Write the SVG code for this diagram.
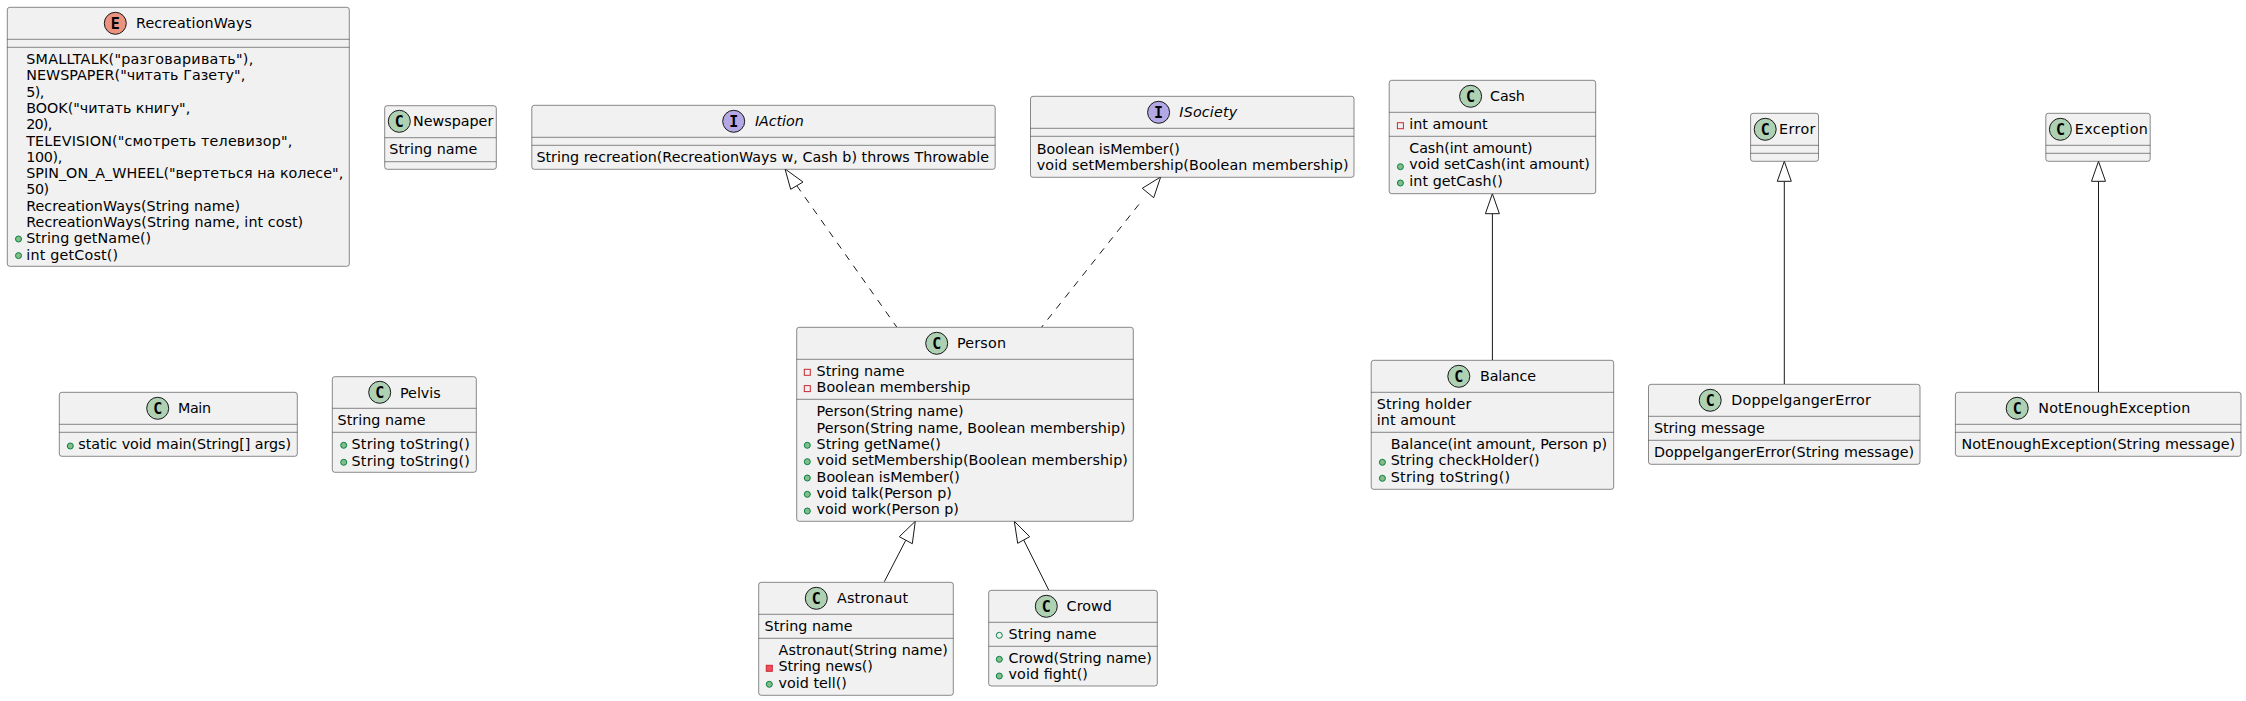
<svg xmlns="http://www.w3.org/2000/svg" width="2246" height="701" viewBox="0 0 2246 701">
<style>
text{font-family:"DejaVu Sans",sans-serif;font-size:14.3px;fill:#000}
.i{font-style:italic}
.box{fill:#F1F1F1;stroke:#181818;stroke-width:.5}
.sep{stroke:#181818;stroke-width:.5}
.sp{fill:#ADD1B2;stroke:#181818;stroke-width:1}
.sp.e{fill:#EB937F}
.sp.n{fill:#B4A7E5}
.g{font-family:"DejaVu Sans Mono",monospace;font-weight:bold;font-size:15px;text-anchor:middle}
.pub{fill:#84BE84;stroke:#038048;stroke-width:1}
.pubf{fill:none;stroke:#038048;stroke-width:1}
.privf{fill:none;stroke:#C82930;stroke-width:1}
.privm{fill:#F24D5C;stroke:#C82930;stroke-width:1}
.ln{fill:none;stroke:#181818;stroke-width:1}
.da{stroke-dasharray:7 7}
.hd{fill:#fff;stroke:#181818;stroke-width:1}
</style>
<g id="connectors">
<path class="ln da" d="M796.8,185.7 L896.7,327"/><polygon class="hd" points="785,168.9 790.7,189.3 803,182"/>
<path class="ln da" d="M1138.9,204.4 L1041.7,327"/><polygon class="hd" points="1160.7,176.9 1153.7,197.7 1142.3,188.3"/>
<path class="ln" d="M905.8,540.2 L884.3,581.7"/><polygon class="hd" points="915.3,521.3 899.3,536.7 912.3,543.7"/>
<path class="ln" d="M1023.7,540 L1048.7,590"/><polygon class="hd" points="1014.3,521.3 1017.7,543.3 1029.7,536.7"/>
<path class="ln" d="M1492.4,213.7 L1492.4,360"/><polygon class="hd" points="1492.4,193.7 1485.4,213.7 1499.4,213.7"/>
<path class="ln" d="M1784.3,181.3 L1784.3,384"/><polygon class="hd" points="1784.3,161.3 1777.3,181.3 1791.3,181.3"/>
<path class="ln" d="M2098.5,181.3 L2098.5,392"/><polygon class="hd" points="2098.5,161.3 2091.5,181.3 2105.5,181.3"/>
</g>
<g id="RecreationWays">
<rect class="box" x="7.3" y="7.3" width="342" height="259" rx="2.5"/>
<line class="sep" x1="7.3" y1="39.3" x2="349.3" y2="39.3"/><line class="sep" x1="7.3" y1="47.3" x2="349.3" y2="47.3"/>
<circle class="sp e" cx="115.3" cy="23.3" r="11"/><text class="g" x="115.3" y="28.5">E</text>
<text x="136" y="28" textLength="116">RecreationWays</text>
<text x="26.2" y="64" textLength="227">SMALLTALK("разговаривать"),</text>
<text x="26.2" y="80.3" textLength="219">NEWSPAPER("читать Газету",</text>
<text x="26.2" y="96.6" textLength="18">5),</text>
<text x="26.2" y="112.9" textLength="164">BOOK("читать книгу",</text>
<text x="26.2" y="129.2" textLength="26">20),</text>
<text x="26.2" y="145.5" textLength="266">TELEVISION("смотреть телевизор",</text>
<text x="26.2" y="161.8" textLength="36">100),</text>
<text x="26.2" y="178.1" textLength="317">SPIN_ON_A_WHEEL("вертеться на колесе",</text>
<text x="26.2" y="194.4" textLength="23">50)</text>
<text x="26.2" y="210.7" textLength="214">RecreationWays(String name)</text>
<text x="26.2" y="227" textLength="277">RecreationWays(String name, int cost)</text>
<circle class="pub" cx="18.5" cy="239" r="3"/><text x="26.2" y="243.3" textLength="125">String getName()</text>
<circle class="pub" cx="18.5" cy="255.6" r="3"/><text x="26.2" y="259.6" textLength="92">int getCost()</text>
</g>
<g id="Newspaper">
<rect class="box" x="384.7" y="105.7" width="111.6" height="63.6" rx="2.5"/>
<line class="sep" x1="384.7" y1="137.7" x2="496.3" y2="137.7"/><line class="sep" x1="384.7" y1="161.7" x2="496.3" y2="161.7"/>
<circle class="sp" cx="399.3" cy="121.3" r="11"/><text class="g" x="399.3" y="126.5">C</text>
<text x="413" y="126.3" textLength="80.3">Newspaper</text>
<text x="389.3" y="154" textLength="88">String name</text>
</g>
<g id="Main">
<rect class="box" x="59.3" y="392.3" width="238" height="64" rx="2.5"/>
<line class="sep" x1="59.3" y1="424.3" x2="297.3" y2="424.3"/><line class="sep" x1="59.3" y1="432.3" x2="297.3" y2="432.3"/>
<circle class="sp" cx="157.7" cy="408.3" r="11"/><text class="g" x="157.7" y="413.5">C</text>
<text x="178" y="413" textLength="33">Main</text>
<circle class="pub" cx="70.3" cy="446" r="3"/><text x="78.3" y="449.3" textLength="212.7">static void main(String[] args)</text>
</g>
<g id="Pelvis">
<rect class="box" x="332.3" y="376.7" width="144" height="95.6" rx="2.5"/>
<line class="sep" x1="332.3" y1="408.3" x2="476.3" y2="408.3"/><line class="sep" x1="332.3" y1="432.3" x2="476.3" y2="432.3"/>
<circle class="sp" cx="379.7" cy="392.3" r="11"/><text class="g" x="379.7" y="397.5">C</text>
<text x="400" y="397.5" textLength="40.7">Pelvis</text>
<text x="337.6" y="425" textLength="88">String name</text>
<circle class="pub" cx="343.7" cy="445.3" r="3"/><text x="351.6" y="449.3" textLength="118.3">String toString()</text>
<circle class="pub" cx="343.7" cy="462.3" r="3"/><text x="351.6" y="465.6" textLength="118.3">String toString()</text>
</g>
<g id="IAction">
<rect class="box" x="531.8" y="105.3" width="463.4" height="64" rx="2.5"/>
<line class="sep" x1="531.8" y1="137.3" x2="995.2" y2="137.3"/><line class="sep" x1="531.8" y1="145.3" x2="995.2" y2="145.3"/>
<circle class="sp n" cx="733.7" cy="121.3" r="11"/><text class="g" x="733.7" y="126.5">I</text>
<text class="i" x="755" y="126" textLength="48.7">IAction</text>
<text x="536.4" y="162" textLength="452.6">String recreation(RecreationWays w, Cash b) throws Throwable</text>
</g>
<g id="ISociety">
<rect class="box" x="1030.5" y="96.3" width="323.5" height="81" rx="2.5"/>
<line class="sep" x1="1030.5" y1="128.3" x2="1354" y2="128.3"/><line class="sep" x1="1030.5" y1="136.3" x2="1354" y2="136.3"/>
<circle class="sp n" cx="1158.6" cy="112.3" r="11"/><text class="g" x="1158.6" y="117.5">I</text>
<text class="i" x="1179.3" y="117" textLength="57.8">ISociety</text>
<text x="1036.8" y="153.7" textLength="143">Boolean isMember()</text>
<text x="1036.8" y="170" textLength="311.7">void setMembership(Boolean membership)</text>
</g>
<g id="Person">
<rect class="box" x="796.7" y="327.3" width="336.6" height="194" rx="2.5"/>
<line class="sep" x1="796.7" y1="359.3" x2="1133.3" y2="359.3"/><line class="sep" x1="796.7" y1="399.3" x2="1133.3" y2="399.3"/>
<circle class="sp" cx="936.7" cy="343.3" r="11"/><text class="g" x="936.7" y="348.5">C</text>
<text x="957" y="348" textLength="49">Person</text>
<rect class="privf" x="804.3" y="369.3" width="6" height="6"/><text x="816.6" y="376" textLength="88">String name</text>
<rect class="privf" x="804.3" y="385.6" width="6" height="6"/><text x="816.6" y="392.3" textLength="153.7">Boolean membership</text>
<text x="816.6" y="416.3" textLength="147">Person(String name)</text>
<text x="816.6" y="432.6" textLength="309">Person(String name, Boolean membership)</text>
<circle class="pub" cx="807.3" cy="445.3" r="3"/><text x="816.6" y="448.9" textLength="124.3">String getName()</text>
<circle class="pub" cx="807.3" cy="461.7" r="3"/><text x="816.6" y="465.2" textLength="311.3">void setMembership(Boolean membership)</text>
<circle class="pub" cx="807.3" cy="478" r="3"/><text x="816.6" y="481.5" textLength="143.3">Boolean isMember()</text>
<circle class="pub" cx="807.3" cy="494.3" r="3"/><text x="816.6" y="497.8" textLength="135.3">void talk(Person p)</text>
<circle class="pub" cx="807.3" cy="511" r="3"/><text x="816.6" y="514" textLength="142.3">void work(Person p)</text>
</g>
<g id="Astronaut">
<rect class="box" x="758.7" y="582.3" width="194.6" height="113" rx="2.5"/>
<line class="sep" x1="758.7" y1="614.3" x2="953.3" y2="614.3"/><line class="sep" x1="758.7" y1="638.3" x2="953.3" y2="638.3"/>
<circle class="sp" cx="816.3" cy="598.3" r="11"/><text class="g" x="816.3" y="603.5">C</text>
<text x="837" y="603" textLength="71">Astronaut</text>
<text x="764.6" y="631" textLength="88">String name</text>
<text x="778.6" y="655" textLength="169.3">Astronaut(String name)</text>
<rect class="privm" x="766.3" y="665.3" width="6" height="6"/><text x="778.6" y="671.3" textLength="94.3">String news()</text>
<circle class="pub" cx="769.3" cy="684.3" r="3"/><text x="778.6" y="687.6" textLength="68.3">void tell()</text>
</g>
<g id="Crowd">
<rect class="box" x="988.7" y="590.3" width="168.6" height="95.7" rx="2.5"/>
<line class="sep" x1="988.7" y1="622.3" x2="1157.3" y2="622.3"/><line class="sep" x1="988.7" y1="646.3" x2="1157.3" y2="646.3"/>
<circle class="sp" cx="1046.3" cy="606.3" r="11"/><text class="g" x="1046.3" y="611.5">C</text>
<text x="1066.6" y="611" textLength="45.3">Crowd</text>
<circle class="pubf" cx="999.3" cy="635.3" r="3"/><text x="1008.6" y="639" textLength="88">String name</text>
<circle class="pub" cx="999.3" cy="659.3" r="3"/><text x="1008.6" y="663" textLength="143.3">Crowd(String name)</text>
<circle class="pub" cx="999.3" cy="676" r="3"/><text x="1008.6" y="679.3" textLength="79.3">void fight()</text>
</g>
<g id="Cash">
<rect class="box" x="1389.2" y="80.3" width="206.5" height="113.4" rx="2.5"/>
<line class="sep" x1="1389.2" y1="112.3" x2="1595.7" y2="112.3"/><line class="sep" x1="1389.2" y1="136.3" x2="1595.7" y2="136.3"/>
<circle class="sp" cx="1470.6" cy="96.3" r="11"/><text class="g" x="1470.6" y="101.5">C</text>
<text x="1490.1" y="101" textLength="34.7">Cash</text>
<rect class="privf" x="1397.4" y="122.7" width="6" height="6"/><text x="1409.3" y="129" textLength="78.4">int amount</text>
<text x="1409.3" y="153" textLength="123.3">Cash(int amount)</text>
<circle class="pub" cx="1400.4" cy="166.7" r="3"/><text x="1409.3" y="169.3" textLength="180.6">void setCash(int amount)</text>
<circle class="pub" cx="1400.4" cy="183" r="3"/><text x="1409.3" y="185.6" textLength="93.6">int getCash()</text>
</g>
<g id="Error">
<rect class="box" x="1750.6" y="113.3" width="67.9" height="48" rx="2.5"/>
<line class="sep" x1="1750.6" y1="145.3" x2="1818.5" y2="145.3"/><line class="sep" x1="1750.6" y1="153.3" x2="1818.5" y2="153.3"/>
<circle class="sp" cx="1765.2" cy="129.3" r="11"/><text class="g" x="1765.2" y="134.5">C</text>
<text x="1779.1" y="134" textLength="36.4">Error</text>
</g>
<g id="Exception">
<rect class="box" x="2045.8" y="113.3" width="104.4" height="48" rx="2.5"/>
<line class="sep" x1="2045.8" y1="145.3" x2="2150.2" y2="145.3"/><line class="sep" x1="2045.8" y1="153.3" x2="2150.2" y2="153.3"/>
<circle class="sp" cx="2060.4" cy="129.3" r="11"/><text class="g" x="2060.4" y="134.5">C</text>
<text x="2074.8" y="134" textLength="73">Exception</text>
</g>
<g id="Balance">
<rect class="box" x="1371.2" y="360.3" width="242.5" height="129" rx="2.5"/>
<line class="sep" x1="1371.2" y1="392.3" x2="1613.7" y2="392.3"/><line class="sep" x1="1371.2" y1="432.3" x2="1613.7" y2="432.3"/>
<circle class="sp" cx="1458.8" cy="376.3" r="11"/><text class="g" x="1458.8" y="381.5">C</text>
<text x="1480" y="381" textLength="56">Balance</text>
<text x="1376.7" y="409" textLength="94.7">String holder</text>
<text x="1376.7" y="425.3" textLength="79">int amount</text>
<text x="1390.7" y="449" textLength="216.5">Balance(int amount, Person p)</text>
<circle class="pub" cx="1382.4" cy="462.3" r="3"/><text x="1390.7" y="465.3" textLength="149">String checkHolder()</text>
<circle class="pub" cx="1382.4" cy="478.3" r="3"/><text x="1390.7" y="481.6" textLength="119.4">String toString()</text>
</g>
<g id="DoppelgangerError">
<rect class="box" x="1648.5" y="384.3" width="271.5" height="80" rx="2.5"/>
<line class="sep" x1="1648.5" y1="416.3" x2="1920" y2="416.3"/><line class="sep" x1="1648.5" y1="440.3" x2="1920" y2="440.3"/>
<circle class="sp" cx="1710.2" cy="400.3" r="11"/><text class="g" x="1710.2" y="405.5">C</text>
<text x="1731.3" y="405" textLength="139.6">DoppelgangerError</text>
<text x="1653.9" y="433" textLength="111">String message</text>
<text x="1653.9" y="457" textLength="260.3">DoppelgangerError(String message)</text>
</g>
<g id="NotEnoughException">
<rect class="box" x="1955.4" y="392.3" width="285.6" height="64" rx="2.5"/>
<line class="sep" x1="1955.4" y1="424.3" x2="2241" y2="424.3"/><line class="sep" x1="1955.4" y1="432.3" x2="2241" y2="432.3"/>
<circle class="sp" cx="2017.2" cy="408.3" r="11"/><text class="g" x="2017.2" y="413.5">C</text>
<text x="2038.3" y="413" textLength="152">NotEnoughException</text>
<text x="1961.5" y="449" textLength="273.7">NotEnoughException(String message)</text>
</g>
</svg>
